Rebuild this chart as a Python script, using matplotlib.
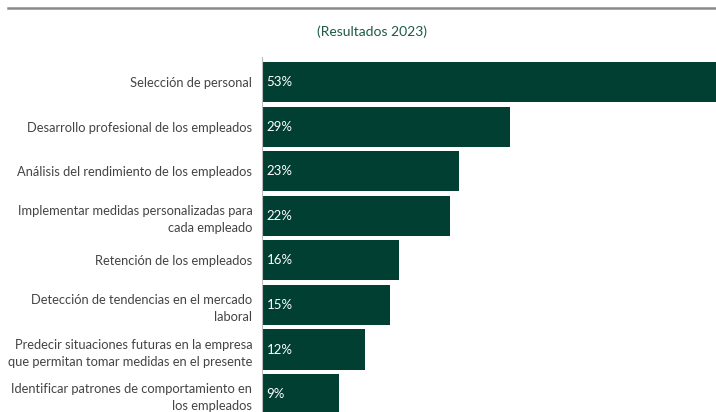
import matplotlib.pyplot as plt
from matplotlib.lines import Line2D

categorias = [
    "Selección de personal",
    "Desarrollo profesional de los empleados",
    "Análisis del rendimiento de los empleados",
    "Implementar medidas personalizadas para\ncada empleado",
    "Retención de los empleados",
    "Detección de tendencias en el mercado\nlaboral",
    "Predecir situaciones futuras en la empresa\nque permitan tomar medidas en el presente",
    "Identificar patrones de comportamiento en\nlos empleados",
]
valores = [53, 29, 23, 22, 16, 15, 12, 9]

verde = "#013f33"
plt.rcParams['font.family'] = ['Lato', 'DejaVu Sans']

fig = plt.figure(figsize=(7.16, 4.12), dpi=100)
ax = fig.add_axes([262 / 716, 0, 454 / 716, 355 / 412])

pos = list(range(len(valores)))
ax.barh(pos, valores, height=0.9, color=verde)
ax.set_xlim(0, 53)
ax.set_ylim(7.40, -0.56)

for p, v in zip(pos, valores):
    ax.text(0.55, p, f"{v}%", color="white", va="center", ha="left", fontsize=9.5)

ax.set_yticks(pos)
ax.set_yticklabels(categorias, fontsize=9.3, color="#444444", linespacing=1.5)
ax.tick_params(axis="y", length=0, pad=7)
ax.set_xticks([])
for s in ["top", "right", "bottom"]:
    ax.spines[s].set_visible(False)
ax.spines["left"].set_color("#bbbbbb")
ax.spines["left"].set_linewidth(0.8)

fig.text(372 / 716, 1 - 32 / 412, "(Resultados 2023)", ha="center", va="center",
         fontsize=10, color="#1d5a48")
fig.add_artist(Line2D([8 / 716, 1], [1 - 8 / 412, 1 - 8 / 412], color="#8a8a8a", lw=1.8))

fig.savefig("out.png", dpi=100)
